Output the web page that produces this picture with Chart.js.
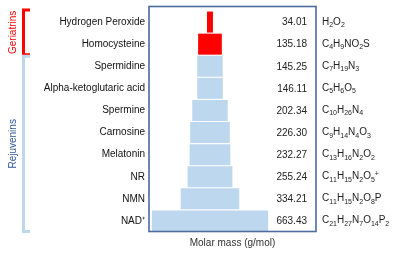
<!DOCTYPE html>
<html><head><meta charset="utf-8">
<script src="https://cdn.jsdelivr.net/npm/chart.js@4"></script>
<style>html,body{margin:0;padding:0;background:#fff}#wrap{width:404px;height:260px}</style>
</head><body><div id="wrap"><canvas id="c" width="404" height="260"></canvas></div>
<script>
const categories = ["Hydrogen Peroxide","Homocysteine","Spermidine","Alpha-ketoglutaric acid","Spermine","Carnosine","Melatonin","NR","NMN","NAD\u207A"];
const molarMass = [34.01,135.18,145.25,146.11,202.34,226.30,232.27,255.24,334.21,663.43];
const formulas = ["H2O2","C4H9NO2S","C7H19N3","C5H6O5","C10H26N4","C9H14N4O3","C13H16N2O2","C11H15N2O5+","C11H15N2O8P","C21H27N7O14P2"];
const groups = ["Geriatrins","Geriatrins","Rejuvenins","Rejuvenins","Rejuvenins","Rejuvenins","Rejuvenins","Rejuvenins","Rejuvenins","Rejuvenins"];
const groupNames = ["Geriatrins","Rejuvenins"];
const axisTitle = "Molar mass (g/mol)";

const FONT = "'Liberation Sans', Arial, sans-serif";
const barColor = g => g === "Geriatrins" ? "#FF0000" : "#BDD7EE";

const overlay = {
  id: 'overlay',
  afterDatasetsDraw(chart) {
    const ctx = chart.ctx, ca = chart.chartArea, ys = chart.scales.y;
    ctx.save();
    // frame
    ctx.strokeStyle = '#4D6B9E'; ctx.lineWidth = 1.6;
    ctx.strokeRect(ca.left, ca.top - 4.5, ca.right - ca.left, ca.bottom - ca.top + 4);
    // value labels
    ctx.fillStyle = '#222'; ctx.font = '10px ' + FONT;
    ctx.textAlign = 'right'; ctx.textBaseline = 'middle';
    molarMass.forEach((v, i) => {
      ctx.fillText(v.toFixed(2), ca.right - 9, ys.getPixelForValue(i) + 0.5);
    });
    // formulas
    ctx.textAlign = 'left'; ctx.textBaseline = 'alphabetic';
    formulas.forEach((f, i) => {
      let x = ca.right + 6;
      const yb = ys.getPixelForValue(i) + 2.5;
      for (const ch of f) {
        if (/[0-9]/.test(ch)) {
          ctx.font = '7px ' + FONT;
          ctx.fillText(ch, x, yb + 2.5);
        } else if (ch === '+') {
          ctx.font = '7px ' + FONT;
          ctx.fillText(ch, x, yb - 3);
        } else {
          ctx.font = '10px ' + FONT;
          ctx.fillText(ch, x, yb);
        }
        x += ctx.measureText(ch).width;
      }
    });
    // group brackets
    const gColors = {Geriatrins: ['#FF0000', '#FF0000'], Rejuvenins: ['#BDD7EE', '#2F5597']};
    groupNames.forEach(g => {
      const idx = groups.map((x, i) => x === g ? i : -1).filter(i => i >= 0);
      const half = ys.getPixelForValue(1) - ys.getPixelForValue(0);
      let top = ys.getPixelForValue(idx[0]) - half / 2;
      let bot = ys.getPixelForValue(idx[idx.length - 1]) + half / 2;
      if (idx[0] === 0) top = ca.top - 2;
      top += 1; bot -= 0.5;
      const [lc, tc] = gColors[g];
      ctx.strokeStyle = lc; ctx.lineWidth = 3; ctx.lineCap = 'butt';
      ctx.beginPath();
      ctx.moveTo(30, top); ctx.lineTo(23.5, top); ctx.lineTo(23.5, bot); ctx.lineTo(30, bot);
      ctx.stroke();
      ctx.save();
      ctx.translate(13, (top + bot) / 2);
      ctx.rotate(-Math.PI / 2);
      ctx.fillStyle = tc; ctx.font = '10px ' + FONT;
      ctx.textAlign = 'center'; ctx.textBaseline = 'middle';
      ctx.fillText(g, 0, 0);
      ctx.restore();
    });
    ctx.restore();
  }
};

new Chart(document.getElementById('c'), {
  type: 'bar',
  data: {
    labels: categories,
    datasets: [{
      data: molarMass.map(v => [-v / 2, v / 2]),
      backgroundColor: groups.map(barColor),
      borderWidth: 0,
      barPercentage: 0.95,
      categoryPercentage: 1.0
    }]
  },
  options: {
    indexAxis: 'y',
    responsive: false,
    animation: false,
    events: [],
    layout: { padding: { left: 0, right: 88, top: 11, bottom: 6 } },
    plugins: { legend: { display: false }, tooltip: { enabled: false } },
    scales: {
      x: {
        min: -348, max: 605,
        grid: { display: false, drawTicks: false },
        border: { display: false },
        ticks: { display: false },
        title: { display: true, text: axisTitle, color: '#333', font: { family: FONT, size: 10 }, padding: { top: 5, bottom: 5 } }
      },
      y: {
        grid: { display: false, drawTicks: false },
        border: { display: false },
        ticks: { color: '#111', font: { family: FONT, size: 10 }, padding: 4, autoSkip: false },
        afterFit(s) { s.width = 149; }
      }
    }
  },
  plugins: [overlay]
});
</script>
</body></html>
